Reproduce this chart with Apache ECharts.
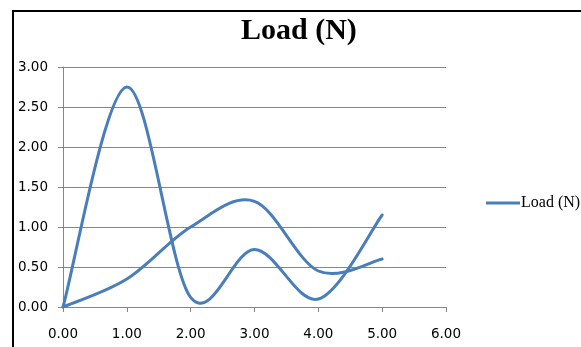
<!DOCTYPE html>
<html>
<head>
<meta charset="utf-8">
<script src="https://cdn.jsdelivr.net/npm/echarts@6/dist/echarts.min.js"></script>
<style>
html,body{margin:0;padding:0;background:#fff;}
#chart{width:581px;height:347px;}
</style>
</head>
<body>
<div id="chart"></div>
<script>
// x positions shared by both runs of the series
var xValues = [0, 1, 2, 3, 4, 5];
// first run (tall peak)
var loadRunA = [0, 2.75, 0.12, 0.72, 0.1, 1.15];
// second run (after a blank row)
var loadRunB = [0, 0.35, 1.0, 1.32, 0.45, 0.6];
var xTicks = [0, 1, 2, 3, 4, 5, 6];
var yTicks = [0, 0.5, 1, 1.5, 2, 2.5, 3];

var runs = [loadRunA, loadRunB];
var seriesData = [];
runs.forEach(function (run, r) {
    xValues.forEach(function (x, i) { seriesData.push([x, run[i], r, i]); });
});

// excel-like smoothed line: bezier with catmull-rom control points
function smoothPath(pts) {
    var d = 'M' + pts[0][0] + ',' + pts[0][1];
    for (var i = 0; i < pts.length - 1; i++) {
        var p0 = pts[Math.max(i - 1, 0)], p1 = pts[i], p2 = pts[i + 1], p3 = pts[Math.min(i + 2, pts.length - 1)];
        var c1x = p1[0] + (p2[0] - p0[0]) / 6, c1y = p1[1] + (p2[1] - p0[1]) / 6;
        var c2x = p2[0] - (p3[0] - p1[0]) / 6, c2y = p2[1] - (p3[1] - p1[1]) / 6;
        d += 'C' + c1x + ',' + c1y + ',' + c2x + ',' + c2y + ',' + p2[0] + ',' + p2[1];
    }
    return d;
}

var chart = echarts.init(document.getElementById('chart'));
chart.setOption({
    animation: false,
    title: {
        text: 'Load (N)',
        left: 236,
        top: 11,
        textStyle: {
            fontFamily: 'Liberation Serif',
            fontWeight: 'bold',
            fontSize: 30,
            color: '#000'
        }
    },
    legend: {
        data: ['Load (N)'],
        left: 486,
        top: 195,
        padding: 0,
        icon: 'rect',
        itemWidth: 34,
        itemHeight: 3,
        itemStyle: {color: '#4a7ebb'},
        textStyle: {
            fontFamily: 'Liberation Serif',
            fontSize: 16,
            color: '#000',
            padding: [0, 0, 0, -4]
        }
    },
    grid: {
        left: 63,
        right: 135,
        top: 67,
        bottom: 40
    },
    xAxis: {
        type: 'value',
        min: xTicks[0],
        max: xTicks[xTicks.length - 1],
        interval: 1,
        axisLine: {show: true, lineStyle: {color: '#868686', width: 1}},
        axisTick: {show: true, length: 5, lineStyle: {color: '#868686'}},
        splitLine: {show: false},
        axisLabel: {
            margin: 20,
            fontFamily: 'DejaVu Sans',
            fontSize: 13.5,
            color: '#000',
            formatter: function (v) { return v.toFixed(2); }
        }
    },
    yAxis: {
        type: 'value',
        min: yTicks[0],
        max: yTicks[yTicks.length - 1],
        interval: 0.5,
        axisLine: {show: true, lineStyle: {color: '#868686', width: 1}},
        axisTick: {show: true, length: 5, lineStyle: {color: '#868686'}},
        splitLine: {show: true, lineStyle: {color: '#868686', width: 1}},
        axisLabel: {
            margin: 15,
            fontFamily: 'DejaVu Sans',
            fontSize: 13.5,
            color: '#000',
            formatter: function (v) { return v.toFixed(2); }
        }
    },
    series: [{
        name: 'Load (N)',
        type: 'custom',
        data: seriesData,
        encode: {x: 0, y: 1},
        itemStyle: {color: '#4a7ebb'},
        renderItem: function (params, api) {
            // draw each run once, at its first point
            if (api.value(3) !== 0) return null;
            var run = runs[api.value(2)];
            var pts = xValues.map(function (x, i) { return api.coord([x, run[i]]); });
            return {
                type: 'path',
                shape: {pathData: smoothPath(pts)},
                style: {stroke: '#4a7ebb', lineWidth: 3, fill: null, lineJoin: 'round', lineCap: 'round'}
            };
        }
    }],
    graphic: [{
        type: 'polyline',
        shape: {points: [[13, 347], [13, 11], [581, 11]]},
        style: {stroke: '#000', lineWidth: 2, fill: null}
    }]
});
</script>
</body>
</html>
